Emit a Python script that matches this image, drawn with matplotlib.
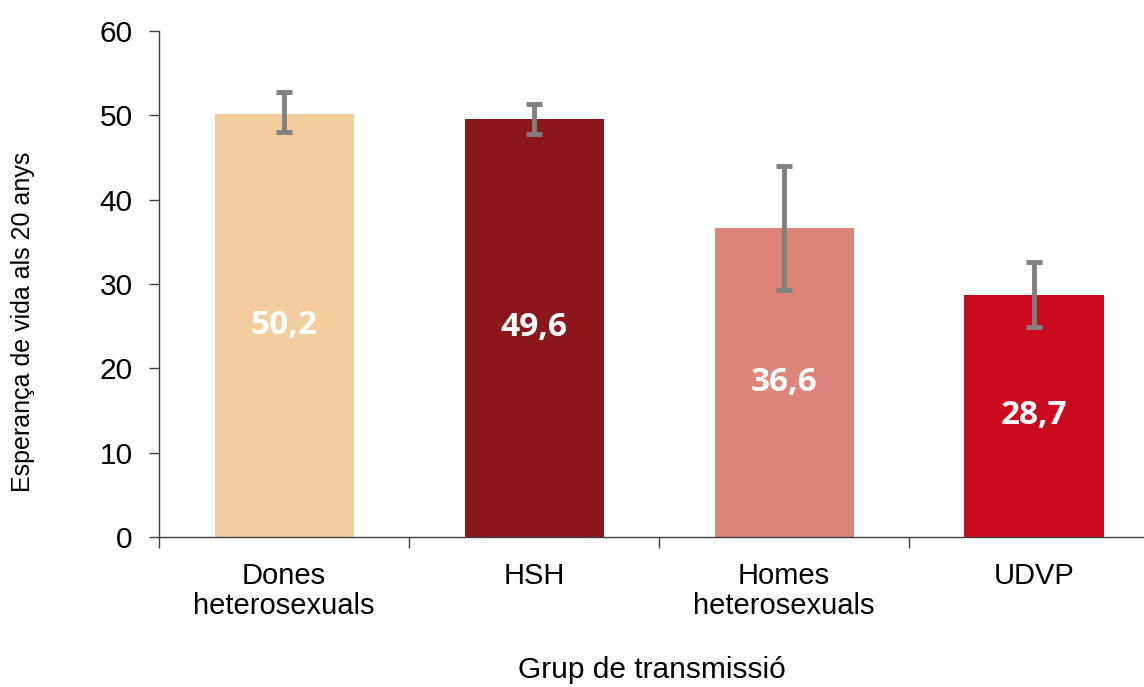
import matplotlib
matplotlib.use('Agg')
import matplotlib.pyplot as plt
import numpy as np

# data
groups = ['Dones\nheterosexuals', 'HSH', 'Homes\nheterosexuals', 'UDVP']
values = [50.2, 49.6, 36.6, 28.7]
err_low = [48.0, 47.8, 29.3, 24.9]
err_high = [52.8, 51.4, 44.0, 32.6]
value_labels = ['50,2', '49,6', '36,6', '28,7']
colors = ['#F2CE9E', '#8B161C', '#DD847A', '#CC0A1E']

plt.rcParams['font.family'] = ['Liberation Sans', 'DejaVu Sans']

fig = plt.figure(figsize=(11.44, 6.87), dpi=100)
ax = fig.add_axes([159 / 1144, 1 - 537 / 687, 1 - 159 / 1144, (537 - 31) / 687])

x = np.arange(len(groups))
ax.bar(x, values, width=0.556, color=colors, zorder=2)

# error bars are centred on the interval ends, not on the bar value
mid = [(lo + hi) / 2 for lo, hi in zip(err_low, err_high)]
half = [(hi - lo) / 2 for lo, hi in zip(err_low, err_high)]
ax.errorbar(x, mid, yerr=half, fmt='none', ecolor='#808080',
            elinewidth=3.5, capsize=6, capthick=3.5, zorder=3)

for xi, v, lab in zip(x, values, value_labels):
    ax.text(xi, v / 2, lab, ha='center', va='center', color='white',
            fontsize=24, fontweight='bold', family=['Open Sans', 'DejaVu Sans'])

ax.set_xlim(-0.5, 3.44)
ax.set_ylim(0, 60)
ax.set_yticks(range(0, 61, 10))
ax.set_xticks(x)
ax.set_xticklabels(groups, fontsize=21, linespacing=1.1)
ax.set_xticks(np.arange(-0.5, 3.5, 1), minor=True)
ax.tick_params(axis='x', which='major', length=0, pad=18)
ax.tick_params(axis='x', which='minor', length=8, width=1, color='#404040')
ax.tick_params(axis='y', labelsize=21.5, length=7, width=1, color='#404040', pad=12)

for s in ['top', 'right']:
    ax.spines[s].set_visible(False)
for s in ['left', 'bottom']:
    ax.spines[s].set_color('#404040')
    ax.spines[s].set_linewidth(1)

ax.set_ylabel('Esperança de vida als 20 anys', fontsize=18)
ax.yaxis.set_label_coords(-0.126, 0.425)
ax.set_xlabel('Grup de transmissió', fontsize=21.5, labelpad=26)

fig.savefig('out.png', dpi=100)
